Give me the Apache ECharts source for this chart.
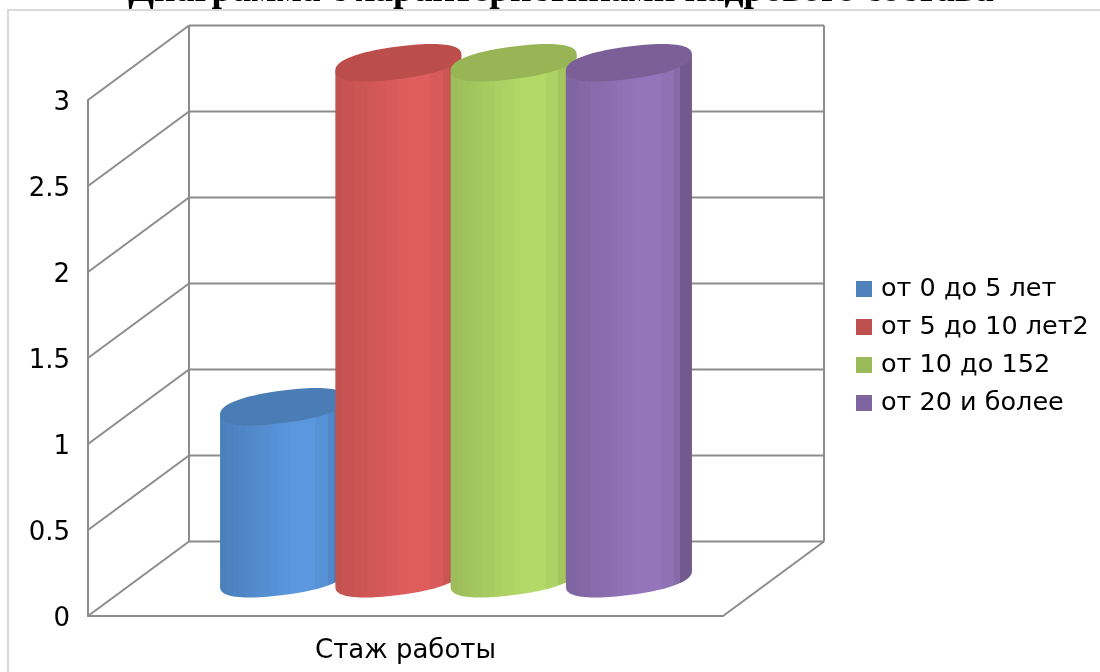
<!DOCTYPE html>
<html>
<head>
<meta charset="utf-8">
<title>Диаграмма</title>
<style>
  html, body { margin: 0; padding: 0; background: #fff; }
  #main { width: 1100px; height: 672px; }
</style>
<script src="https://cdn.jsdelivr.net/npm/echarts@6/dist/echarts.min.js"></script>
</head>
<body>
<div id="main"></div>
<script>
var titleText = 'Диаграмма с характеристиками кадрового состава';
var categories = ['Стаж работы'];
var yTicks = [0, 0.5, 1, 1.5, 2, 2.5, 3];
var seriesNames = ['от 0 до 5 лет', 'от 5 до 10 лет2', 'от 10 до 152', 'от 20 и более'];
var seriesValues = [1, 3, 3, 3];

// colours per series
var legendColors = ['#4f81bd', '#c0504d', '#9bbb59', '#8064a2'];
var topColors = ['#4a7db5', '#bb4e4b', '#98b556', '#7c5f97'];
var sideDark = ['#4b7fbc', '#c0524f', '#9cbc5a', '#7f649f'];
var sideLight = ['#5b97de', '#e05d5d', '#b3d968', '#9475bb'];
var edgeDark = ['#4a7bb5', '#c0524f', '#9cbc5a', '#735a8e'];

// fake 3d box, pixels
var depthX = 101;
var depthY = -74.5;
var wallColor = '#8c8c8c';
var wallWidth = 2;

// cylinder shape, pixels
var cylRx = 63;
var cylSlant = 8;
var cylRy = 16.2;
var cylPow = 0.85; // ends of the cap are a bit blunter than a true ellipse
var cylStep = 115.3;

function mix(a, b, t) {
  var pa = parseInt(a.slice(1), 16), pb = parseInt(b.slice(1), 16);
  var out = [16, 8, 0].map(function (s) {
    var ca = (pa >> s) & 255, cb = (pb >> s) & 255;
    return Math.round(ca + (cb - ca) * t);
  });
  return 'rgb(' + out.join(',') + ')';
}

// hard stepped gradient, the reference has visible vertical bands
function bandFill(i) {
  var stops = [];
  var n = 18;
  for (var k = 0; k < n; k++) {
    var from = k / n * 0.905, to = (k + 1) / n * 0.905, mid = (from + to) / 2;
    var t = mid < 0.58 ? mid / 0.58 : (mid < 0.76 ? 1 : (mid < 0.84 ? 0.75 : 0.35));
    var c = mix(sideDark[i], sideLight[i], t);
    stops.push({ offset: from, color: c }, { offset: to, color: c });
  }
  stops.push({ offset: 0.905, color: edgeDark[i] }, { offset: 1, color: edgeDark[i] });
  return new echarts.graphic.LinearGradient(0, 0, 1, 0, stops);
}

function soft(v) {
  return (v < 0 ? -1 : 1) * Math.pow(Math.abs(v), cylPow);
}

function ellipsePoint(cx, cy, t) {
  var c = soft(Math.cos(t)), s = soft(Math.sin(t));
  return [cx + cylRx * c, cy - cylSlant * c + cylRy * s];
}

function renderCylinder(i) {
  return function (params, api) {
    var top = api.coord([api.value(0), api.value(1)]);
    var base = api.coord([api.value(0), 0]);
    var cx = top[0] + depthX / 2 + (i - 1.5) * cylStep;
    var topY = top[1] + depthY / 2;
    var baseY = base[1] + depthY / 2;
    var body = [], cap = [], n = 48, k;
    body.push(ellipsePoint(cx, topY, Math.PI));
    for (k = 0; k <= n; k++) {
      body.push(ellipsePoint(cx, baseY, Math.PI - k / n * Math.PI));
    }
    body.push(ellipsePoint(cx, topY, 0));
    for (k = 0; k < n * 2; k++) {
      cap.push(ellipsePoint(cx, topY, k / n * Math.PI));
    }
    return {
      type: 'group',
      children: [
        { type: 'polygon', shape: { points: body }, style: { fill: bandFill(i) } },
        { type: 'polygon', shape: { points: cap }, style: { fill: topColors[i] } }
      ]
    };
  };
}

function wallLine(x1, y1, x2, y2) {
  return { type: 'line', shape: { x1: x1, y1: y1, x2: x2, y2: y2 }, style: { stroke: wallColor, lineWidth: wallWidth } };
}

function renderWalls(params, api) {
  var v = api.value(0);
  var front = api.coord([0, v]);
  var x0 = params.coordSys.x, x1 = x0 + params.coordSys.width;
  var backY = front[1] + depthY;
  var children = [
    wallLine(x0, front[1], x0 + depthX, backY),
    wallLine(x0 + depthX, backY, x1 + depthX, backY)
  ];
  if (v === yTicks[0]) {
    var roof = api.coord([0, yTicks[yTicks.length - 1]])[1] + depthY;
    children.push(
      wallLine(x1, front[1], x1 + depthX, backY),
      wallLine(x0 + depthX, backY, x0 + depthX, roof),
      wallLine(x1 + depthX, backY, x1 + depthX, roof)
    );
  }
  return { type: 'group', children: children };
}

var series = [{
  type: 'custom',
  name: 'walls',
  silent: true,
  z: 1,
  renderItem: renderWalls,
  encode: { y: 0 },
  data: yTicks.map(function (v) { return [v]; })
}];
seriesNames.forEach(function (name, i) {
  series.push({
    type: 'custom',
    name: name,
    z: 2 + i,
    itemStyle: { color: legendColors[i] },
    renderItem: renderCylinder(i),
    encode: { x: 0, y: 1 },
    data: [[0, seriesValues[i]]]
  });
});

var chart = echarts.init(document.getElementById('main'));
chart.setOption({
  animation: false,
  backgroundColor: '#fff',
  textStyle: { fontFamily: 'DejaVu Sans' },
  title: {
    text: titleText,
    z: 0,
    left: 556,
    top: -33,
    textAlign: 'center',
    textStyle: { fontFamily: 'Liberation Serif', fontWeight: 'bold', fontSize: 37.5, color: '#000' }
  },
  graphic: [{
    type: 'rect',
    z: 1,
    silent: true,
    shape: { x: 8, y: 10, width: 1300, height: 900 },
    style: { fill: '#fff', stroke: '#d9d9d9', lineWidth: 2 }
  }],
  legend: {
    data: seriesNames,
    orient: 'vertical',
    left: 851,
    top: 271,
    itemWidth: 16,
    itemHeight: 16,
    itemGap: 12,
    selectedMode: false,
    icon: 'rect',
    z: 8,
    textStyle: { fontFamily: 'DejaVu Sans', fontSize: 25.5, color: '#000', padding: [0, 0, 0, 4] }
  },
  grid: { left: 88, right: 377, top: 100, bottom: 56, containLabel: false },
  xAxis: {
    type: 'category',
    data: categories,
    z: 3,
    axisTick: { show: false },
    axisLine: { show: true, lineStyle: { color: wallColor, width: wallWidth } },
    axisLabel: { color: '#000', fontSize: 26, margin: 22 }
  },
  yAxis: {
    type: 'value',
    min: 0,
    max: 3,
    interval: 0.5,
    z: 3,
    splitLine: { show: false },
    axisTick: { show: false },
    axisLine: { show: true, lineStyle: { color: wallColor, width: wallWidth } },
    axisLabel: {
      color: '#000',
      margin: 18,
      formatter: '{n|{value}}',
      rich: { n: { fontFamily: 'DejaVu Sans', fontSize: 26, color: '#000', padding: [6, 0, 0, 0] } }
    }
  },
  series: series
});
</script>
</body>
</html>
